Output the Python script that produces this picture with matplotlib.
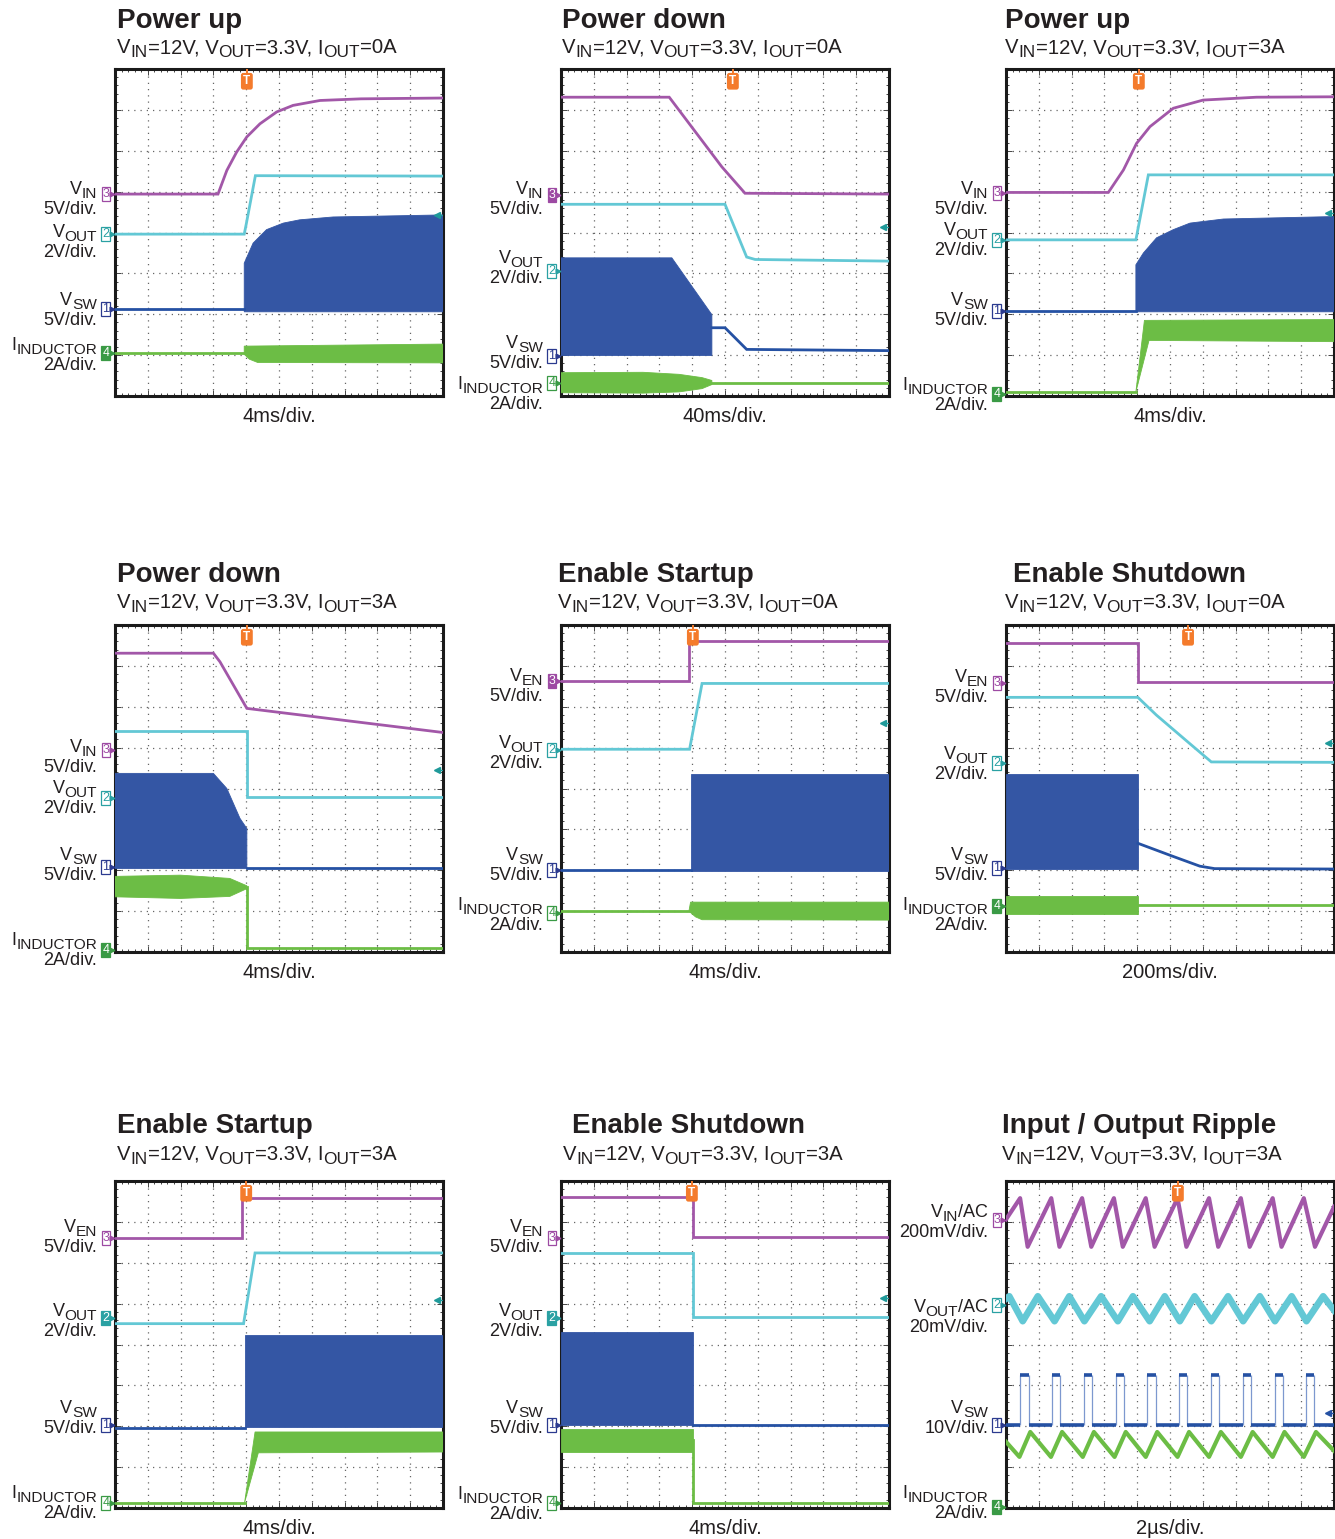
#!/usr/bin/env python3
import matplotlib
matplotlib.use("Agg")
import matplotlib.pyplot as plt
from matplotlib.font_manager import FontProperties
from matplotlib.ticker import MultipleLocator

W, H = 1335, 1539
FONT = "Liberation Sans"
plt.rcParams["font.family"] = [FONT, "DejaVu Sans"]

# trace colours
C_VIN = "#a257a8"
C_VOUT = "#63c8d5"
C_VSW = "#2551a3"
C_VSW_BAND = "#3456a4"
C_IND = "#6cbd45"
C_TRIG = "#f47b2c"
C_LEVEL = "#1f9a9a"
C_TEXT = "#231f20"
C_MARK = {1: "#2b3a8f", 2: "#2aa1a3", 3: "#9d4aa3", 4: "#3a9a45"}

# ---------------------------------------------------------------- data
# all values in scope divisions: x 0..10, y 0..8

# 1: power up, 0 A
P1_VIN = [(0, 4.94), (3.14, 4.94), (3.41, 5.52), (3.71, 5.97), (4.02, 6.34), (4.42, 6.66),
          (4.93, 6.95), (5.43, 7.11), (6.25, 7.23), (7.5, 7.27), (10, 7.29)]
P1_VOUT = [(0, 3.96), (3.94, 3.96), (4.0, 4.2), (4.28, 5.39), (10, 5.38)]
P1_VSW = [(0, 2.13), (3.94, 2.13)]
P1_VSW_TOP = [(3.94, 2.1), (3.94, 3.25), (4.21, 3.74), (4.62, 4.07), (5.13, 4.23), (5.63, 4.31),
              (6.65, 4.38), (10, 4.43)]
P1_VSW_BOT = [(3.94, 2.06), (10, 2.06)]
P1_IND = [(0, 1.04), (3.94, 1.04)]
P1_IND_TOP = [(3.94, 1.04), (3.94, 1.22), (10, 1.27)]
P1_IND_BOT = [(3.94, 1.02), (4.1, 0.9), (4.35, 0.82), (10, 0.81)]

# 2: power down, 0 A
P2_VIN = [(0, 7.31), (3.30, 7.31), (4.90, 5.61), (5.61, 4.96), (10, 4.94)]
P2_VOUT = [(0, 4.69), (5.0, 4.69), (5.66, 3.40), (5.92, 3.34), (10, 3.30)]
P2_VSW = [(4.6, 1.67), (5.0, 1.67), (5.66, 1.14), (10, 1.11)]
P2_VSW_TOP = [(0, 3.38), (3.38, 3.38), (4.60, 1.99), (4.60, 1.67)]
P2_VSW_BOT = [(0, 0.99), (4.6, 0.99)]
P2_IND = [(4.6, 0.33), (10, 0.33)]
P2_IND_TOP = [(0, 0.57), (2.5, 0.58), (3.6, 0.53), (4.3, 0.45), (4.6, 0.38)]
P2_IND_BOT = [(0, 0.08), (2.5, 0.07), (3.6, 0.10), (4.3, 0.18), (4.6, 0.28)]

# 3: power up, 3 A
P3_VIN = [(0, 4.98), (3.12, 4.98), (3.58, 5.53), (3.98, 6.18), (4.39, 6.59), (5.10, 7.04),
          (6.01, 7.24), (7.64, 7.31), (10, 7.32)]
P3_VOUT = [(0, 3.82), (3.96, 3.82), (4.34, 5.41), (10, 5.41)]
P3_VSW = [(0, 2.09), (3.96, 2.09)]
P3_VSW_TOP = [(3.96, 2.08), (3.96, 3.21), (4.19, 3.50), (4.59, 3.87), (5.10, 4.07), (5.61, 4.23),
              (6.63, 4.33), (10, 4.39)]
P3_VSW_BOT = [(3.96, 2.06), (10, 2.06)]
P3_IND = [(0, 0.10), (3.96, 0.10)]
P3_IND_TOP = [(3.96, 0.10), (4.22, 1.85), (10, 1.87)]
P3_IND_BOT = [(3.96, 0.10), (4.36, 1.36), (10, 1.33)]

# 4: power down, 3 A
P4_VIN = [(0, 7.31), (3.0, 7.31), (3.2, 7.10), (3.61, 6.53), (4.02, 5.96), (10, 5.37)]
P4_VOUT = [(0, 5.41), (4.02, 5.41), (4.02, 3.80), (10, 3.80)]
P4_VSW = [(4.02, 2.06), (10, 2.06)]
P4_VSW_TOP = [(0, 4.37), (3.0, 4.37), (3.41, 4.0), (3.81, 3.27), (4.02, 3.02), (4.02, 2.04)]
P4_VSW_BOT = [(0, 2.04), (4.02, 2.04)]
P4_IND = [(4.02, 1.59), (4.02, 0.10), (10, 0.10)]
P4_IND_TOP = [(0, 1.85), (2.0, 1.88), (3.5, 1.80), (4.02, 1.62)]
P4_IND_BOT = [(0, 1.35), (2.0, 1.31), (3.5, 1.36), (4.02, 1.55)]

# 5: enable startup, 0 A
P5_VEN = [(0, 6.63), (3.90, 6.63), (3.90, 7.61), (10, 7.61)]
P5_VOUT = [(0, 4.96), (3.92, 4.96), (4.30, 6.57), (10, 6.57)]
P5_VSW = [(0, 2.0), (3.97, 2.0)]
P5_VSW_TOP = [(3.97, 1.98), (3.97, 4.35), (10, 4.35)]
P5_VSW_BOT = [(3.97, 1.98), (10, 1.98)]
P5_IND = [(0, 1.0), (3.9, 1.0)]
P5_IND_TOP = [(3.9, 1.0), (3.95, 1.22), (10, 1.22)]
P5_IND_BOT = [(3.9, 1.0), (4.1, 0.86), (4.3, 0.79), (10, 0.78)]

# 6: enable shutdown, 0 A
P6_VEN = [(0, 7.56), (4.02, 7.56), (4.02, 6.60), (10, 6.60)]
P6_VOUT = [(0, 6.23), (4.02, 6.23), (4.58, 5.80), (5.60, 5.10), (6.26, 4.65), (10, 4.64)]
P6_VSW = [(4.02, 2.66), (5.09, 2.34), (5.91, 2.10), (6.36, 2.04), (10, 2.03)]
P6_VSW_TOP = [(0, 4.36), (4.02, 4.36), (4.02, 2.03)]
P6_VSW_BOT = [(0, 2.03), (4.02, 2.03)]
P6_IND = [(4.02, 1.14), (10, 1.14)]
P6_IND_TOP = [(0, 1.36), (4.02, 1.36)]
P6_IND_BOT = [(0, 0.93), (4.02, 0.93)]

# 7: enable startup, 3 A
P7_VEN = [(0, 6.60), (3.87, 6.60), (3.87, 7.58), (10, 7.58)]
P7_VOUT = [(0, 4.51), (3.92, 4.51), (4.27, 6.24), (10, 6.24)]
P7_VSW = [(0, 1.96), (3.95, 1.96)]
P7_VSW_TOP = [(3.95, 1.98), (3.95, 4.24), (10, 4.24)]
P7_VSW_BOT = [(3.95, 1.98), (10, 1.98)]
P7_IND = [(0, 0.13), (3.95, 0.13)]
P7_IND_TOP = [(3.95, 0.13), (4.27, 1.86), (10, 1.86)]
P7_IND_BOT = [(3.95, 0.13), (4.37, 1.35), (10, 1.37)]

# 8: enable shutdown, 3 A
P8_VEN = [(0, 7.61), (4.01, 7.61), (4.01, 6.62), (10, 6.62)]
P8_VOUT = [(0, 6.25), (4.01, 6.25), (4.01, 4.68), (10, 4.68)]
P8_VSW = [(4.01, 2.02), (10, 2.02)]
P8_VSW_TOP = [(0, 4.31), (4.01, 4.31), (4.01, 2.02)]
P8_VSW_BOT = [(0, 2.02), (4.01, 2.02)]
P8_IND = [(4.01, 1.66), (4.01, 0.13), (10, 0.13)]
P8_IND_TOP = [(0, 1.94), (4.01, 1.94)]
P8_IND_BOT = [(0, 1.37), (4.01, 1.37)]

# 9: input / output ripple
RIP_VIN_T = [0, 0.43, 0.66, 1.38, 1.63, 2.32, 2.60, 3.29, 3.56, 4.26, 4.53, 5.23, 5.50,
             6.19, 6.47, 7.16, 7.43, 8.13, 8.40, 9.08, 9.42, 10]
RIP_VIN_V = [7.06, 7.58, 6.39, 7.58, 6.39, 7.58, 6.39, 7.58, 6.39, 7.58, 6.39, 7.58, 6.39,
             7.58, 6.39, 7.58, 6.39, 7.58, 6.39, 7.58, 6.39, 7.37]
RIP_VOUT_T = [0, 0.10, 0.51, 0.97, 1.48, 1.93, 2.39, 2.90, 3.41, 3.87, 4.38, 4.84, 5.30,
              5.75, 6.26, 6.77, 7.23, 7.74, 8.20, 8.71, 9.16, 9.67, 10]
RIP_VOUT_V = [5.12, 5.18, 4.57, 5.18, 4.57, 5.18, 4.57, 5.18, 4.57, 5.18, 4.57, 5.18, 4.57,
              5.18, 4.57, 5.18, 4.57, 5.18, 4.57, 5.18, 4.57, 5.18, 4.84]
RIP_SW_RISE = [0.43, 1.41, 2.37, 3.34, 4.31, 5.27, 6.26, 7.23, 8.19, 9.16]
RIP_SW_FALL = [0.69, 1.66, 2.63, 3.59, 4.56, 5.53, 6.49, 7.46, 8.43, 9.40]
RIP_SW_LOW, RIP_SW_HIGH = 2.02, 3.25
RIP_IND_T = [0, 0.41, 0.74, 1.37, 1.71, 2.34, 2.68, 3.31, 3.65, 4.26, 4.61, 5.23, 5.58,
             6.19, 6.55, 7.16, 7.52, 8.13, 8.49, 9.08, 9.45, 10]
RIP_IND_V = [1.62, 1.25, 1.86, 1.25, 1.86, 1.25, 1.86, 1.25, 1.86, 1.25, 1.86, 1.25, 1.86,
             1.25, 1.86, 1.25, 1.86, 1.25, 1.86, 1.25, 1.86, 1.40]

# channel ground markers (ch3, ch2, ch1, ch4)
MARK_Y = [
    [4.94, 3.96, 2.13, 1.04], [4.92, 3.05, 0.99, 0.31], [4.96, 3.81, 2.09, 0.04],
    [4.94, 3.76, 2.07, 0.04], [6.63, 4.94, 2.00, 0.96], [6.59, 4.62, 2.05, 1.12],
    [6.60, 4.64, 2.02, 0.13], [6.61, 4.65, 2.02, 0.13], [7.04, 4.96, 2.02, 0.02],
]
MARK_FILLED = [4, 3, 4, 4, 3, 4, 2, 2, 4]
TRIG_X = [4.02, 5.24, 4.05, 4.02, 4.02, 5.55, 4.0, 3.99, 5.24]
LEVEL_Y = [4.43, 4.13, 4.47, 4.45, 5.6, 5.11, 5.09, 5.13, 2.32]

TITLES = ["Power up", "Power down", "Power up", "Power down", "Enable Startup",
          "Enable Shutdown", "Enable Startup", "Enable Shutdown", "Input / Output Ripple"]
IOUT = ["0A", "0A", "3A", "3A", "0A", "0A", "3A", "3A", "3A"]
TIMEBASE = ["4ms/div.", "40ms/div.", "4ms/div.", "4ms/div.", "4ms/div.", "200ms/div.",
            "4ms/div.", "4ms/div.", "2\u00b5s/div."]

N_VIN = [("V", 0), ("IN", 1)]
N_VEN = [("V", 0), ("EN", 1)]
N_VOUT = [("V", 0), ("OUT", 1)]
N_VSW = [("V", 0), ("SW", 1)]
N_IND = [("I", 0), ("INDUCTOR", 1)]
N_VIN_AC = [("V", 0), ("IN", 1), ("/AC", 0)]
N_VOUT_AC = [("V", 0), ("OUT", 1), ("/AC", 0)]
UNITS_STD = ["5V/div.", "2V/div.", "5V/div.", "2A/div."]
UNITS_RIP = ["200mV/div.", "20mV/div.", "10V/div.", "2A/div."]

# ---------------------------------------------------------------- layout
COL_L = [115, 561, 1006]
ROW_T = [69, 625, 1181]
AX_W, AX_H = 328, 327
TITLE_Y = [28, 582, 1133]
SUB_Y = [53, 608, 1160]
TITLE_X = [117, 562, 1005, 117, 558, 1013, 117, 572, 1002]
SUB_X = [117, 562, 1005, 117, 558, 1005, 117, 563, 1002]
LABEL_Y = [
    [4.94, 3.89, 2.23, 1.13], [4.94, 3.26, 1.18, 0.16], [4.94, 3.94, 2.23, 0.14],
    [4.89, 3.89, 2.25, 0.17], [6.63, 4.98, 2.25, 1.03], [6.60, 4.72, 2.25, 1.03],
    [6.75, 4.69, 2.32, 0.24], [6.75, 4.69, 2.32, 0.22], [7.11, 4.79, 2.32, 0.24],
]
SUB_SCALE = 0.85


def text_width(renderer, s, size, weight="normal"):
    fp = FontProperties(family=FONT, size=size, weight=weight)
    w1, _, _ = renderer.get_text_width_height_descent("|" + s + "|", fp, ismath=False)
    w0, _, _ = renderer.get_text_width_height_descent("||", fp, ismath=False)
    return w1 - w0


def rich_text(fig, x, y, parts, size, ha="left", color=C_TEXT):
    # parts: (text, is_subscript); x, y in pixels from top left, y is the baseline
    r = fig.canvas.get_renderer()
    sizes = [size * SUB_SCALE if sub else size for _, sub in parts]
    widths = [text_width(r, s, sz) for (s, _), sz in zip(parts, sizes)]
    if ha == "right":
        x -= sum(widths)
    for (s, sub), sz, w in zip(parts, sizes, widths):
        yy = y + (0.21 * size * 100 / 72 if sub else 0)
        fig.text(x / W, 1 - yy / H, s, fontsize=sz, family=FONT, color=color,
                 ha="left", va="baseline")
        x += w


def xy(pts):
    return [p[0] for p in pts], [p[1] for p in pts]


def band(ax, top, bot, color):
    tx, ty = xy(top)
    bx, by = xy(bot)
    ax.fill(tx + bx[::-1], ty + by[::-1], fc=color, ec=color, lw=0.6, zorder=3)


def setup_axes(fig, idx):
    row, col = divmod(idx, 3)
    L, T = COL_L[col], ROW_T[row]
    ax = fig.add_axes([L / W, 1 - (T + AX_H) / H, AX_W / W, AX_H / H])
    ax.set_xlim(0, 10)
    ax.set_ylim(0, 8)
    ax.xaxis.set_major_locator(MultipleLocator(1))
    ax.yaxis.set_major_locator(MultipleLocator(1))
    ax.xaxis.set_minor_locator(MultipleLocator(0.2))
    ax.yaxis.set_minor_locator(MultipleLocator(0.2))
    ax.grid(True, which="major", color="#666666", ls=(0, (1, 4)), lw=0.9, zorder=0)
    ax.tick_params(which="both", direction="in", top=True, right=True,
                   labelleft=False, labelbottom=False, color="#444444", width=0.7)
    ax.tick_params(which="major", length=4)
    ax.tick_params(which="minor", length=2.5)
    for sp in ax.spines.values():
        sp.set_linewidth(2.2)
        sp.set_color("#1a1a1a")
    ax.set_axisbelow(True)
    return ax


def decorate(fig, ax, idx, names, units):
    row, col = divmod(idx, 3)
    L, T = COL_L[col], ROW_T[row]
    fig.text(TITLE_X[idx] / W, 1 - TITLE_Y[row] / H, TITLES[idx], fontsize=20,
             fontweight="bold", color=C_TEXT, va="baseline")
    rich_text(fig, SUB_X[idx], SUB_Y[row],
              [("V", 0), ("IN", 1), ("=12V, V", 0), ("OUT", 1), ("=3.3V, I", 0),
               ("OUT", 1), ("=" + IOUT[idx], 0)], 14.6)
    fig.text((L + AX_W / 2) / W, 1 - (T + AX_H + 26) / H, TIMEBASE[idx], fontsize=14.5,
             color=C_TEXT, ha="center", va="baseline")

    # channel names on the left
    for name, unit, ly in zip(names, units, LABEL_Y[idx]):
        base = T + AX_H - ly * AX_H / 8
        rich_text(fig, L - 18, base, name, 13, ha="right")
        fig.text((L - 18) / W, 1 - (base + 20) / H, unit, fontsize=13, color=C_TEXT,
                 ha="right", va="baseline")

    # channel ground markers: numbered box with a small pointer towards the screen
    yt = ax.get_yaxis_transform()
    for ch, my in zip([3, 2, 1, 4], MARK_Y[idx]):
        c = C_MARK[ch]
        filled = ch == MARK_FILLED[idx]
        ax.text(-0.017, my, str(ch), transform=yt, ha="right", va="center", fontsize=9,
                color="white" if filled else c, clip_on=False, zorder=6,
                bbox=dict(boxstyle="square,pad=0.08", fc=c if filled else "white",
                          ec=c, lw=0.9))
        ax.plot([-0.008], [my], marker=">", ms=3.4, color=c, transform=yt,
                clip_on=False, zorder=6)

    # trigger position and level
    ax.text(TRIG_X[idx], 7.7, "T", fontsize=8.5, fontweight="bold", color="white",
            ha="center", va="center", zorder=7,
            bbox=dict(boxstyle="round,pad=0.2", fc=C_TRIG, ec="none"))
    ax.plot([TRIG_X[idx], TRIG_X[idx]], [7.9, 8.0], color=C_TRIG, lw=1.4, zorder=7)
    lc = C_VSW if idx == 8 else C_LEVEL
    ax.plot([0.982], [LEVEL_Y[idx]], marker="<", ms=4, color=lc, transform=yt, zorder=7)
    ax.plot([0.982, 0.998], [LEVEL_Y[idx], LEVEL_Y[idx]], color=lc, lw=0.9,
            transform=yt, zorder=7)


def draw_traces(ax, lines, bands):
    for top, bot, c in bands:
        band(ax, top, bot, c)
    for pts, c in lines:
        x, y = xy(pts)
        ax.plot(x, y, color=c, lw=2.0, zorder=4, solid_joinstyle="miter")


def draw_ripple(ax):
    ax.plot(RIP_VIN_T, RIP_VIN_V, color=C_VIN, lw=3.0, zorder=4)
    ax.plot(RIP_VOUT_T, RIP_VOUT_V, color=C_VOUT, lw=4.8, zorder=4, solid_joinstyle="round")
    edges = RIP_SW_RISE + RIP_SW_FALL
    ax.vlines(edges, [RIP_SW_LOW] * len(edges), [RIP_SW_HIGH] * len(edges),
              color="#7d98cf", lw=0.9, zorder=4)
    lo_start = [0] + RIP_SW_FALL
    lo_end = RIP_SW_RISE + [10]
    ax.hlines([RIP_SW_LOW] * len(lo_start), lo_start, lo_end, color=C_VSW, lw=2.6, zorder=4)
    ax.hlines([RIP_SW_HIGH] * len(RIP_SW_RISE), RIP_SW_RISE, RIP_SW_FALL,
              color=C_VSW, lw=2.6, zorder=4)
    ax.plot(RIP_IND_T, RIP_IND_V, color=C_IND, lw=3.0, zorder=4)


PANELS = [
    ([(P1_VIN, C_VIN), (P1_VOUT, C_VOUT), (P1_VSW, C_VSW), (P1_IND, C_IND)],
     [(P1_VSW_TOP, P1_VSW_BOT, C_VSW_BAND), (P1_IND_TOP, P1_IND_BOT, C_IND)], N_VIN),
    ([(P2_VIN, C_VIN), (P2_VOUT, C_VOUT), (P2_VSW, C_VSW), (P2_IND, C_IND)],
     [(P2_VSW_TOP, P2_VSW_BOT, C_VSW_BAND), (P2_IND_TOP, P2_IND_BOT, C_IND)], N_VIN),
    ([(P3_VIN, C_VIN), (P3_VOUT, C_VOUT), (P3_VSW, C_VSW), (P3_IND, C_IND)],
     [(P3_VSW_TOP, P3_VSW_BOT, C_VSW_BAND), (P3_IND_TOP, P3_IND_BOT, C_IND)], N_VIN),
    ([(P4_VIN, C_VIN), (P4_VOUT, C_VOUT), (P4_VSW, C_VSW), (P4_IND, C_IND)],
     [(P4_VSW_TOP, P4_VSW_BOT, C_VSW_BAND), (P4_IND_TOP, P4_IND_BOT, C_IND)], N_VIN),
    ([(P5_VEN, C_VIN), (P5_VOUT, C_VOUT), (P5_VSW, C_VSW), (P5_IND, C_IND)],
     [(P5_VSW_TOP, P5_VSW_BOT, C_VSW_BAND), (P5_IND_TOP, P5_IND_BOT, C_IND)], N_VEN),
    ([(P6_VEN, C_VIN), (P6_VOUT, C_VOUT), (P6_VSW, C_VSW), (P6_IND, C_IND)],
     [(P6_VSW_TOP, P6_VSW_BOT, C_VSW_BAND), (P6_IND_TOP, P6_IND_BOT, C_IND)], N_VEN),
    ([(P7_VEN, C_VIN), (P7_VOUT, C_VOUT), (P7_VSW, C_VSW), (P7_IND, C_IND)],
     [(P7_VSW_TOP, P7_VSW_BOT, C_VSW_BAND), (P7_IND_TOP, P7_IND_BOT, C_IND)], N_VEN),
    ([(P8_VEN, C_VIN), (P8_VOUT, C_VOUT), (P8_VSW, C_VSW), (P8_IND, C_IND)],
     [(P8_VSW_TOP, P8_VSW_BOT, C_VSW_BAND), (P8_IND_TOP, P8_IND_BOT, C_IND)], N_VEN),
]


def main():
    fig = plt.figure(figsize=(W / 100, H / 100), dpi=100)
    fig.patch.set_facecolor("white")
    for idx in range(9):
        ax = setup_axes(fig, idx)
        if idx < 8:
            lines, bands, first = PANELS[idx]
            draw_traces(ax, lines, bands)
            decorate(fig, ax, idx, [first, N_VOUT, N_VSW, N_IND], UNITS_STD)
        else:
            draw_ripple(ax)
            decorate(fig, ax, idx, [N_VIN_AC, N_VOUT_AC, N_VSW, N_IND], UNITS_RIP)
    fig.savefig("out.png", dpi=100)
    plt.close(fig)


if __name__ == "__main__":
    main()
